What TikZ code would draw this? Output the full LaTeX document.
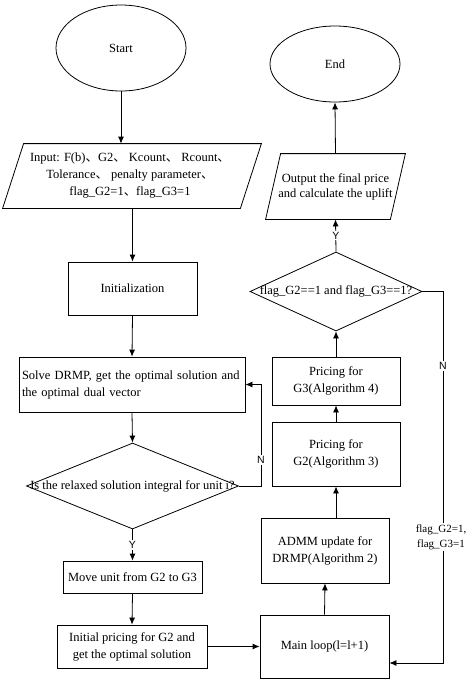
\documentclass[tikz,border=0pt]{standalone}
\usepackage{fontspec}
\setmainfont{Liberation Serif}
\newfontfamily\cjkfont{Noto Sans CJK SC}
\newfontfamily\ynfont{Liberation Sans}
\usetikzlibrary{shapes.geometric,arrows.meta}
\newcommand{\dunhao}{{\cjkfont 、}}
\begin{document}
\begin{tikzpicture}[x=1pt,y=-1pt, line width=0.8pt,
  >={Latex[length=7pt,width=6pt]},
  every node/.style={font=\fontsize{12.5}{17}\selectfont, line width=0.8pt},
  box/.style={draw, rectangle, align=center, inner sep=0pt},
  term/.style={draw, ellipse, inner sep=0pt},
  iobox/.style={rectangle, inner sep=0pt},
  dec/.style={draw, diamond, inner sep=1pt},
  yn/.style={fill=white, inner sep=1pt, font=\ynfont\fontsize{10.5}{12}\selectfont},
  small/.style={fill=white, inner sep=1pt, align=center, font=\fontsize{11}{15}\selectfont}]

\useasboundingbox (0,0) rectangle (474,683);

% left column
\node[term, minimum width=130pt, minimum height=86pt] (start) at (121,48) {Start};
\node[iobox, minimum width=258pt, minimum height=64pt] (inp) at (132,176) {};
\draw ([xshift=21pt]inp.north west) -- (inp.north east) -- ([xshift=-21pt]inp.south east)
  -- (inp.south west) -- cycle;
\node[align=center] (inptext) at (130,176) {Input: F(b)\dunhao G2\dunhao{} Kcount\dunhao{} Rcount\dunhao\\
  Tolerance\dunhao{} penalty parameter\dunhao\\ flag\_G2=1\dunhao flag\_G3=1};
\node[box, minimum width=129pt, minimum height=53pt] (init) at (132.5,288.5) {Initialization};
\node[box, minimum height=55pt, text width=220pt, inner xsep=3pt, align=left] (solve) at (132,384.5)
  {Solve DRMP, get the optimal solution and\\ the optimal dual vector};
\node[dec, minimum width=212pt, minimum height=86pt] (d1) at (132.5,486) {};
\node (d1text) at (132.5,486) {Is the relaxed solution integral for unit i?};
\node[box, minimum width=139pt, minimum height=32pt] (move) at (132.5,577) {Move unit from G2 to G3};
\node[box, minimum width=150pt, minimum height=43pt] (initp) at (132,646.5)
  {Initial pricing for G2 and\\ get the optimal solution};

% right column
\node[term, minimum width=130pt, minimum height=76pt] (end) at (335,64) {End};
\node[iobox, minimum width=139pt, minimum height=65pt] (out) at (335.5,186.5) {};
\draw ([xshift=15pt]out.north west) -- (out.north east) -- ([xshift=-15pt]out.south east)
  -- (out.south west) -- cycle;
\node[align=center, font=\fontsize{12.5}{15}\selectfont] (outtext) at (335.5,187)
  {Output the final price\\ and calculate the uplift};
\node[dec, minimum width=172pt, minimum height=79pt] (d2) at (336,291.5) {};
\node (d2text) at (336,291.5) {flag\_G2==1 and flag\_G3==1?};
\node[box, minimum width=128pt, minimum height=48pt] (g3) at (336,381) {Pricing for\\ G3(Algorithm 4)};
\node[box, minimum width=128pt, minimum height=64pt] (g2) at (336,454) {Pricing for\\ G2(Algorithm 3)};
\node[box, minimum width=128pt, minimum height=65pt] (admm) at (325,550.5) {ADMM update for\\ DRMP(Algorithm 2)};
\node[box, minimum width=129pt, minimum height=63pt] (main) at (324.5,646.5) {Main loop(l=l+1)};

% connectors, left column
\draw[->] (start.south) -- (start.south |- inp.north);
\draw[->] (init.north |- inp.south) -- (init.north);
\draw[->] (init.south) -- (solve.north);
\draw[->] (solve.south) -- (d1.north);
\draw[->] (d1.south) -- (move.north) node[pos=0.5, yn] {Y};
\draw[->] (move.south) -- (initp.north);
\draw[->] (initp.east) -- (main.west);

% connectors, right column
\draw[->] (main.north) -- (admm.south);
\draw[->] (admm.north -| g2.south) -- (g2.south);
\draw[->] (g2.north) -- (g3.south);
\draw[->] (g3.north) -- (d2.south);
\draw[->] (d2.north) -- (out.south) node[pos=0.5, yn] {Y};
\draw[->] (out.north) -- (end.south);

% loops
\coordinate (c1) at (261,486);
\draw[->] (d1.east) -- (c1) |- (solve.east);
\node[yn] (n1) at (261,460) {N};
\coordinate (c2) at (443,663);
\draw[->] (d2.east) -| (c2) -- (c2 -| main.east);
\node[yn] (n2) at (443,366) {N};
\node[small] (flaglbl) at (441,537) {flag\_G2=1,\\ flag\_G3=1};
\end{tikzpicture}
\end{document}
